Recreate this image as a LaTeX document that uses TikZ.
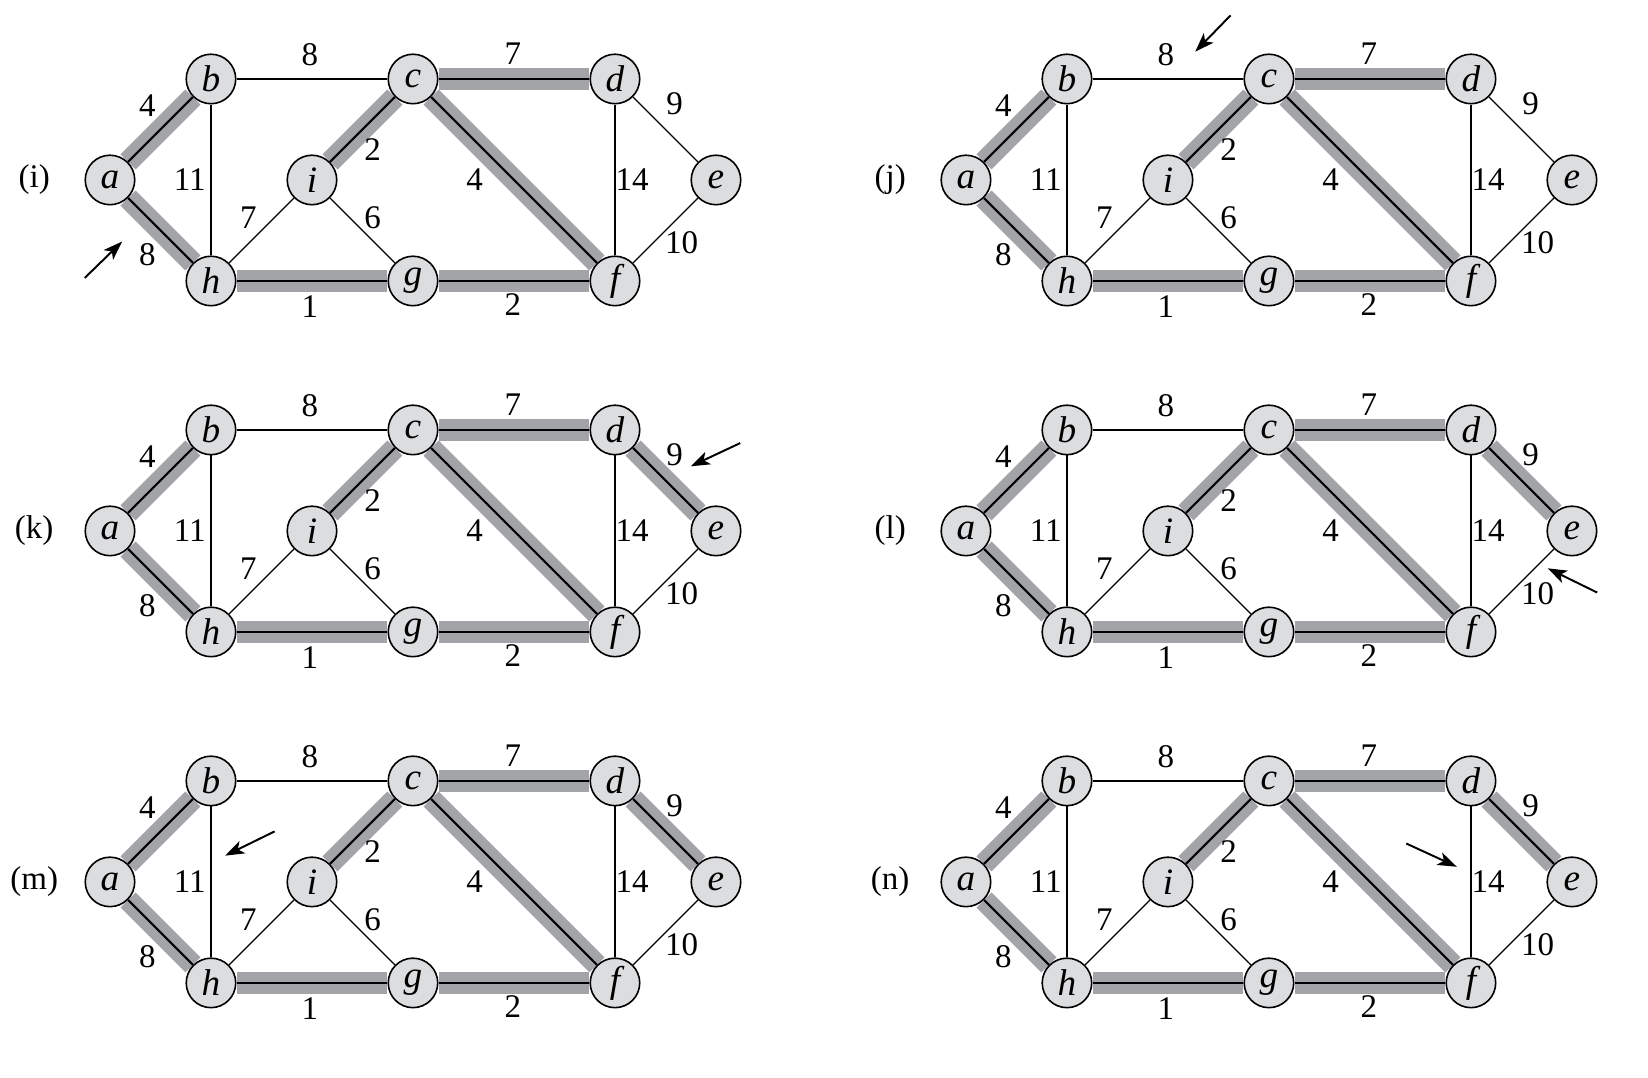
\documentclass[tikz,border=0pt]{standalone}
\usepackage{fontspec}
\setmainfont{Liberation Serif}
\usetikzlibrary{arrows.meta,backgrounds}

\definecolor{bandgray}{RGB}{163,164,168}
\definecolor{vtxgray}{RGB}{220,221,223}

\tikzset{
  vtx/.style={circle, draw, line width=0.45pt, fill=vtxgray, minimum size=0.49cm, inner sep=0pt,
    font=\fontsize{10.5}{12}\selectfont\itshape},
  plain/.style={line width=0.35pt},
  band/.style={draw=bandgray, line width=6pt},
  tree/.style={line width=0.6pt, preaction={band}},
  wt/.style={inner sep=0pt},
  pointer/.style={line width=0.55pt, -{Stealth[length=5.4pt,width=3.8pt,inset=1.4pt]}}
}

% one panel, a sits at (0,0); #1 = panel label, #2 = style of edge d--e
\newcommand{\mstpanel}[2]{%
  \node [vtx] (a) at (0,0) {a};
  \node [vtx] (b) at (1,1) {b};
  \node [vtx] (c) at (3,1) {c};
  \node [vtx] (d) at (5,1) {d};
  \node [vtx] (e) at (6,0) {e};
  \node [vtx] (f) at (5,-1) {f};
  \node [vtx] (g) at (3,-1) {g};
  \node [vtx] (h) at (1,-1) {h};
  \node [vtx] (i) at (2,0) {i};
  \node (lbl) at (-0.75,0) {#1};
  \begin{pgfonlayer}{background}
  \draw [tree] (a) -- (b);
  \draw [tree] (a) -- (h);
  \draw [tree] (i) -- (c);
  \draw [tree] (c) -- (d);
  \draw [tree] (c) -- (f);
  \draw [tree] (h) -- (g);
  \draw [tree] (g) -- (f);
  \draw [plain] (b) -- (c);
  \draw [plain] (b) -- (h);
  \draw [plain] (h) -- (i);
  \draw [plain] (i) -- (g);
  \draw [plain] (d) -- (f);
  \draw [plain] (e) -- (f);
  \draw [#2] (d) -- (e);
  \end{pgfonlayer}
  \node [wt] (wab) at (0.37,0.74) {4};
  \node [wt] (wah) at (0.37,-0.74) {8};
  \node [wt] (wbc) at (1.98,1.24) {8};
  \node [wt] (wbh) at (0.79,0) {11};
  \node [wt] (whi) at (1.37,-0.37) {7};
  \node [wt] (wic) at (2.6,0.3) {2};
  \node [wt] (wig) at (2.6,-0.37) {6};
  \node [wt] (whg) at (1.98,-1.25) {1};
  \node [wt] (wcd) at (3.99,1.25) {7};
  \node [wt] (wcf) at (3.61,0) {4};
  \node [wt] (wgf) at (3.99,-1.23) {2};
  \node [wt] (wdf) at (5.17,0) {14};
  \node [wt] (wde) at (5.59,0.75) {9};
  \node [wt] (wef) at (5.66,-0.62) {10};
}

\begin{document}
\begin{tikzpicture}[font=\fontsize{9.3}{11}\selectfont]
\useasboundingbox (-1.089,1.782) rectangle (15.228,-8.891);

% (i)
\begin{scope}
\mstpanel{(i)}{plain}
\coordinate (s) at (-0.25,-0.97);
\coordinate (t) at (0.12,-0.61);
\draw [pointer] (s) -- (t);
\end{scope}

% (j)
\begin{scope}[xshift=8.475cm]
\mstpanel{(j)}{plain}
\coordinate (s) at (2.62,1.63);
\coordinate (t) at (2.27,1.27);
\draw [pointer] (s) -- (t);
\end{scope}

% (k)
\begin{scope}[yshift=-3.475cm]
\mstpanel{(k)}{tree}
\coordinate (s) at (6.24,0.87);
\coordinate (t) at (5.75,0.64);
\draw [pointer] (s) -- (t);
\end{scope}

% (l)
\begin{scope}[xshift=8.475cm, yshift=-3.475cm]
\mstpanel{(l)}{tree}
\coordinate (s) at (6.25,-0.61);
\coordinate (t) at (5.76,-0.37);
\draw [pointer] (s) -- (t);
\end{scope}

% (m)
\begin{scope}[yshift=-6.95cm]
\mstpanel{(m)}{tree}
\coordinate (s) at (1.63,0.5);
\coordinate (t) at (1.14,0.26);
\draw [pointer] (s) -- (t);
\end{scope}

% (n)
\begin{scope}[xshift=8.475cm, yshift=-6.95cm]
\mstpanel{(n)}{tree}
\coordinate (s) at (4.36,0.38);
\coordinate (t) at (4.86,0.15);
\draw [pointer] (s) -- (t);
\end{scope}

\end{tikzpicture}
\end{document}
